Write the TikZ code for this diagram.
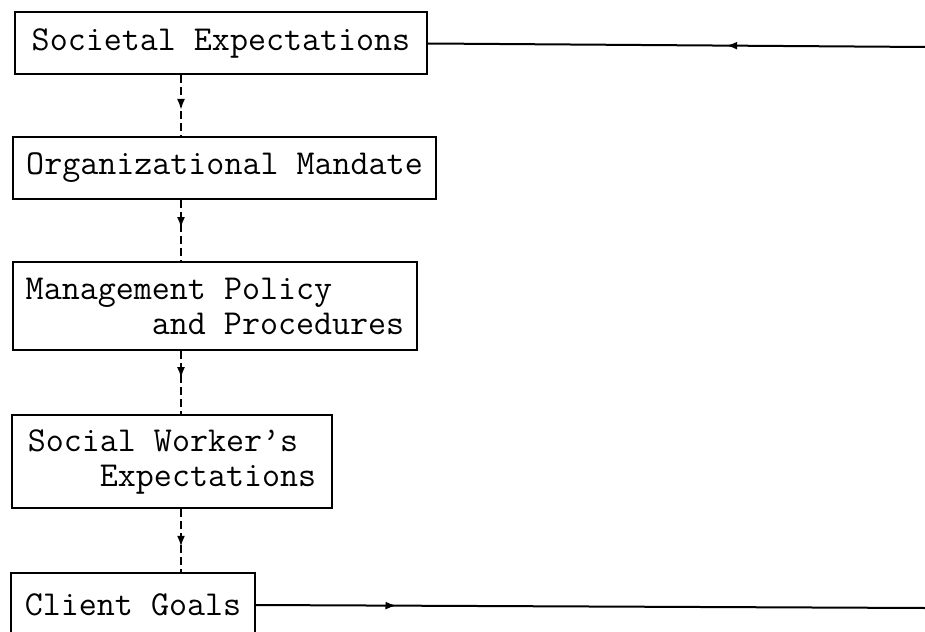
\documentclass[tikz,border=0pt]{standalone}
\usepackage{fontspec}
\usetikzlibrary{arrows.meta,decorations.markings}
\tikzset{
    midarrow/.style={postaction={decorate},
        decoration={markings,mark=at position #1 with {\arrow{Latex[length=11pt,width=8pt]}}}},
    levelbox/.style={draw,line width=2pt,align=left,inner sep=2pt,
        font=\ttfamily\fontsize{35}{35}\selectfont}
}
\begin{document}
    \begin{tikzpicture}[x=1pt,y=-1pt]
        \useasboundingbox (0,0) rectangle (925,631);
        \clip (0,0) rectangle (925,631);
        \coordinate (spine) at (181,0);
        \coordinate (topend) at (925,47);
        \coordinate (botend) at (925,608);
        \begin{scope}[every node/.style={levelbox}]
            \node[minimum width=412pt,minimum height=62pt] (soc) at (221,43.5) {Societal Expectations};
            \node[minimum width=423pt,minimum height=62pt] (org) at (224.5,168) {Organizational Mandate};
            \node[minimum width=404pt,minimum height=88pt] (mgt) at (215,306) {Management Policy\\\phantom{xxxxxxx}and Procedures};
            \node[minimum width=320pt,minimum height=93pt] (swk) at (172,461.5) {Social Worker’s\\\phantom{xxxx}Expectations};
            \node[minimum width=244pt,minimum height=64pt] (cli) at (133,605) {Client Goals};
        \end{scope}
        \begin{scope}[line width=2pt]
            \draw [dash pattern=on 8pt off 4pt,midarrow=0.57] (soc.south -| spine) -- (org.north -| spine);
            \draw [dash pattern=on 8pt off 4pt,midarrow=0.46] (org.south -| spine) -- (mgt.north -| spine);
            \draw [dash pattern=on 8pt off 4pt,midarrow=0.43] (mgt.south -| spine) -- (swk.north -| spine);
            \draw [dash pattern=on 8pt off 4pt,midarrow=0.6] (swk.south -| spine) -- (cli.north -| spine);
            \draw [midarrow=0.4] (topend) -- (soc.east);
            \draw [midarrow=0.21] (cli.east) -- (botend);
        \end{scope}
    \end{tikzpicture}
\end{document}
